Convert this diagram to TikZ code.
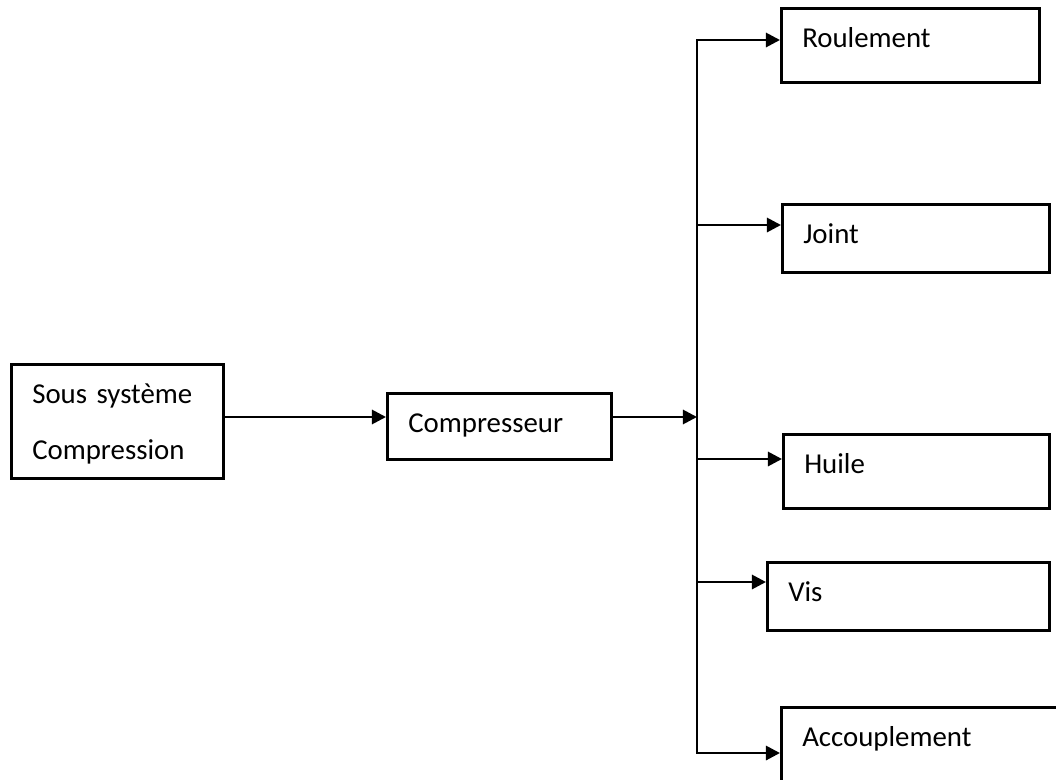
\documentclass[tikz,border=0pt]{standalone}
\usepackage{fontspec}
\setmainfont{Carlito}
\usetikzlibrary{arrows.meta}
\tikzset{
  bloc/.style={draw,line width=1.8pt,anchor=north west,inner xsep=.525cm,
    inner ysep=0pt,text height=.975cm,align=left},
  fleche/.style={-{Triangle[length=10pt,width=10pt]},line width=2pt,line join=miter}
}
\begin{document}
\begin{tikzpicture}[x=0.025cm,y=-0.025cm,font=\fontsize{20.5}{39.7}\selectfont]
  \useasboundingbox (0,0) rectangle (1056,780);
  \clip (0,0) rectangle (1056,780);
  % blocs
  \node[bloc,minimum width=5.3cm,text width=4.25cm,text depth=1.875cm] (SS) at (10,363) {Sous système\\Compression};
  \node[bloc,minimum width=5.6cm,text width=4.55cm,text depth=.675cm] (Comp) at (386,392) {Compresseur};
  \node[bloc,minimum width=6.45cm,text width=5.4cm,text depth=.875cm] (Roul) at (780,7) {Roulement};
  \node[bloc,minimum width=6.675cm,text width=5.625cm,text depth=.725cm] (Joint) at (781,203) {Joint};
  \node[bloc,minimum width=6.65cm,text width=5.6cm,text depth=.875cm] (Huile) at (782,433) {Huile};
  \node[bloc,minimum width=7.05cm,text width=6cm,text depth=.725cm] (Vis) at (766,561) {Vis};
  \node[bloc,minimum width=7.5cm,text width=6.45cm,text depth=1.525cm] (Acc) at (780,706) {Accouplement};
  \coordinate (B) at (697,417);
  % liaisons
  \draw[fleche] (SS.east |- B) -- (Comp.west |- B);
  \draw[fleche] (Comp.east |- B) -- (B);
  \draw[fleche] (B) |- ([yshift=-.825cm]Roul.north west);
  \draw[fleche] (B) |- ([yshift=-.55cm]Joint.north west);
  \draw[fleche] (B) |- ([yshift=-.65cm]Huile.north west);
  \draw[fleche] (B) |- ([yshift=-.525cm]Vis.north west);
  \draw[fleche] (B) |- ([yshift=-1.175cm]Acc.north west);
\end{tikzpicture}
\end{document}
